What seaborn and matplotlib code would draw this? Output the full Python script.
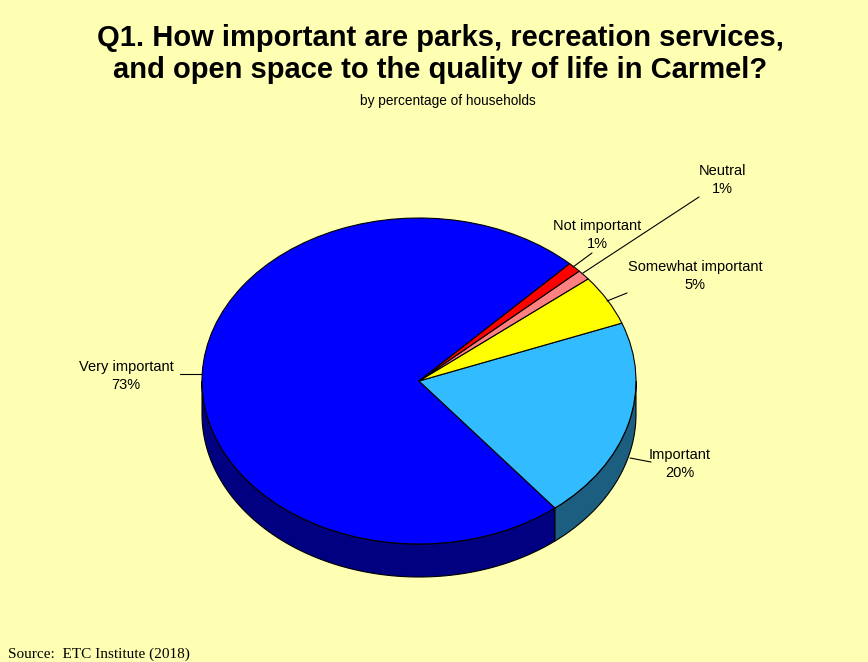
import numpy as np
import matplotlib
matplotlib.use("Agg")
import matplotlib.pyplot as plt
from matplotlib.patches import Polygon
from matplotlib.lines import Line2D
import seaborn as sns

# Survey responses (percent of households)
categories = ["Very important", "Important", "Somewhat important", "Neutral", "Not important"]
percentages = [73, 20, 5, 1, 1]
label_text = [f"{c}\n{p}%" for c, p in zip(categories, percentages)]

top_colors = ["#0000FF", "#33BBFF", "#FFFF00", "#FF8080", "#FF0000"]
side_colors = ["#000080", "#1B5E80", "#808000", "#804040", "#800000"]

BG = "#FFFFB3"

sns.set_theme(style="white", rc={"figure.facecolor": BG, "axes.facecolor": BG})
plt.rcParams["font.family"] = ["Liberation Sans", "DejaVu Sans"]

W, H = 868, 662
fig = plt.figure(figsize=(W / 100, H / 100), dpi=100)
fig.patch.set_facecolor(BG)

# pixel helpers for figure placement
def fx(x):
    return x / W

def fy(y):
    return 1 - y / H

# pie geometry (pixels): centre, radii, extrusion depth
cx, cy, rx, ry, depth = 419, 381, 217, 163, 33
pad = 4
d = depth / ry
p = pad / ry
ax = fig.add_axes([fx(cx - rx - pad), fy(cy + ry + depth + pad),
                   (2 * rx + 2 * pad) / W, (2 * ry + depth + 2 * pad) / H])
ax.set_facecolor("none")

wedges, _ = ax.pie(
    percentages,
    colors=sns.color_palette(top_colors),
    startangle=46,
    counterclock=True,
    radius=1,
    wedgeprops=dict(edgecolor="black", linewidth=0.8),
)
for w in wedges:
    w.set_zorder(3)

# front side walls for the part of each wedge facing the viewer
for w, sc in zip(wedges, side_colors):
    t1, t2 = w.theta1, w.theta2
    for shift in (0, 360):
        a = max(t1 - shift, 180)
        b = min(t2 - shift, 360)
        if b > a:
            th = np.radians(np.linspace(a, b, 200))
            top = np.column_stack([np.cos(th), np.sin(th)])
            bot = np.column_stack([np.cos(th[::-1]), np.sin(th[::-1]) - d])
            ax.add_patch(Polygon(np.vstack([top, bot]), closed=True, facecolor=sc,
                                 edgecolor="black", linewidth=0.8, zorder=2))

ax.set_aspect("auto")
ax.set_xlim(-1 - pad / rx, 1 + pad / rx)
ax.set_ylim(-1 - d - p, 1 + p)
ax.axis("off")

# titles
fig.text(fx(440), fy(38), "Q1. How important are parks, recreation services,",
         ha="center", va="center", fontsize=21, fontweight="bold", color="black")
fig.text(fx(440), fy(70), "and open space to the quality of life in Carmel?",
         ha="center", va="center", fontsize=21, fontweight="bold", color="black")
fig.text(fx(448), fy(101), "by percentage of households",
         ha="center", va="center", fontsize=9.8, color="black")

# slice labels with leader lines (pixel positions)
label_pos = [(126, 376), (680, 464), (695, 276), (722, 180), (597, 235)]
leaders = [((180, 374), (202, 374)),
           ((651, 462), (630, 458)),
           ((627, 293), (607, 301)),
           ((699, 197), (583, 273)),
           ((592, 253), (573, 267))]
for txt, (lx, ly), ((x1, y1), (x2, y2)) in zip(label_text, label_pos, leaders):
    fig.text(fx(lx), fy(ly), txt, ha="center", va="center", fontsize=10.5,
             color="black", linespacing=1.4)
    fig.add_artist(Line2D([fx(x1), fx(x2)], [fy(y1), fy(y2)], color="black",
                          linewidth=0.8, transform=fig.transFigure))

fig.text(fx(8), fy(654), "Source:  ETC Institute (2018)", ha="left", va="center",
         fontsize=11, family=["Liberation Serif", "DejaVu Serif"], color="black")

fig.savefig("out.png", dpi=100, facecolor=BG)
